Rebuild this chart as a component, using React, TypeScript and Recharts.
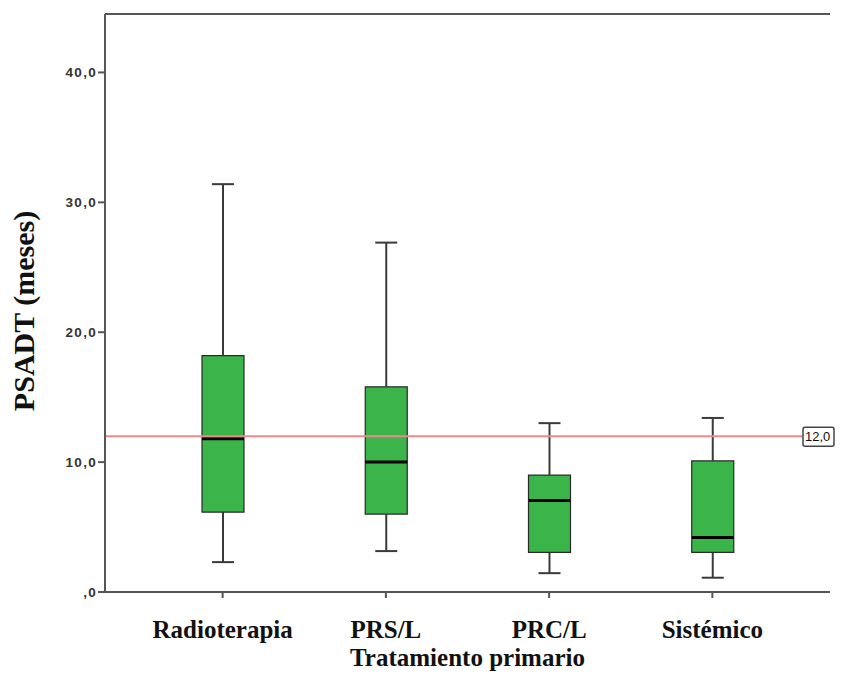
import React from "react";
import {
  ComposedChart,
  Bar,
  XAxis,
  YAxis,
  ReferenceLine,
  Label,
} from "recharts";

// Tratamiento primario -> PSADT (meses)
const categories = ["Radioterapia", "PRS/L", "PRC/L", "Sistémico"];
const mins = [2.3, 3.15, 1.45, 1.1];
const q1s = [6.15, 6.0, 3.05, 3.05];
const medians = [11.8, 10.0, 7.05, 4.2];
const q3s = [18.2, 15.8, 9.0, 10.1];
const maxs = [31.4, 26.9, 13.0, 13.4];

const yTicks = [0, 10, 20, 30, 40];
const Y_MAX = 44.5;
const REF_VALUE = 12;

const GREEN = "#3bb44a";
const DARK = "#3a3a3a";
const FRAME = "#555";

const data = categories.map((name, i) => ({
  name,
  base: mins[i],
  lowWhisker: q1s[i] - mins[i],
  lowBox: medians[i] - q1s[i],
  highBox: q3s[i] - medians[i],
  highWhisker: maxs[i] - q3s[i],
}));

const fmt = (v: number) => (v === 0 ? ",0" : v.toFixed(1).replace(".", ","));

const Empty = () => <g />;

const LowWhisker = (p: any) => {
  const { x, y, width, height } = p;
  const cx = x + width / 2;
  return (
    <g stroke={DARK} strokeWidth={2}>
      <line x1={cx} x2={cx} y1={y} y2={y + height} />
      <line x1={cx - 11} x2={cx + 11} y1={y + height} y2={y + height} />
    </g>
  );
};

const HighWhisker = (p: any) => {
  const { x, y, width, height } = p;
  const cx = x + width / 2;
  return (
    <g stroke={DARK} strokeWidth={2}>
      <line x1={cx} x2={cx} y1={y} y2={y + height} />
      <line x1={cx - 11} x2={cx + 11} y1={y} y2={y} />
    </g>
  );
};

const LowBox = (p: any) => {
  const { x, y, width, height } = p;
  return (
    <g>
      <rect x={x} y={y} width={width} height={height} fill={GREEN} />
      <path
        d={`M${x},${y} L${x},${y + height} L${x + width},${y + height} L${x + width},${y}`}
        fill="none"
        stroke="#2a2a2a"
        strokeWidth={1.2}
      />
    </g>
  );
};

const HighBox = (p: any) => {
  const { x, y, width, height } = p;
  return (
    <g>
      <rect x={x} y={y} width={width} height={height} fill={GREEN} />
      <path
        d={`M${x},${y + height} L${x},${y} L${x + width},${y} L${x + width},${y + height}`}
        fill="none"
        stroke="#2a2a2a"
        strokeWidth={1.2}
      />
      {/* median */}
      <line x1={x} x2={x + width} y1={y + height} y2={y + height} stroke="#000" strokeWidth={3} />
    </g>
  );
};

const RefLabel = (props: any) => {
  const { viewBox } = props;
  const right = viewBox.x + viewBox.width;
  const y = viewBox.y;
  return (
    <g>
      <rect x={right - 27} y={y - 9} width={31} height={19} fill="#fff" stroke="#444" strokeWidth={1.5} rx={2} />
      <text x={right - 25} y={y + 5} fontSize={13} fontFamily="Arial, 'Liberation Sans', sans-serif" fill="#111">
        {fmt(REF_VALUE)}
      </text>
    </g>
  );
};

const XTitle = (props: any) => {
  const { viewBox } = props;
  return (
    <text
      x={viewBox.x + viewBox.width / 2}
      y={viewBox.y + 74}
      textAnchor="middle"
      fontSize={25}
      fontWeight="bold"
      fontFamily="'Liberation Serif', 'Times New Roman', serif"
      fill="#111"
    >
      Tratamiento primario
    </text>
  );
};

const YTitle = (props: any) => {
  const { viewBox } = props;
  const cy = viewBox.y + viewBox.height / 2 + 8;
  return (
    <text
      x={26}
      y={cy}
      transform={`rotate(-90 26 ${cy})`}
      textAnchor="middle"
      fontSize={30}
      fontWeight="bold"
      fontFamily="'Liberation Serif', 'Times New Roman', serif"
      fill="#111"
    >
      PSADT (meses)
    </text>
  );
};

export default function App() {
  return (
    <div style={{ width: 834, height: 674 }}>
      <ComposedChart
        width={834}
        height={674}
        data={data}
        margin={{ top: 6, right: 12, left: 0, bottom: 0 }}
      >
        <XAxis
          dataKey="name"
          height={90}
          padding={{ left: 36, right: 36 }}
          axisLine={{ stroke: FRAME, strokeWidth: 2 }}
          tickLine={{ stroke: FRAME, strokeWidth: 2 }}
          tickSize={6}
          tickMargin={22}
          tick={{
            fontSize: 25,
            fontWeight: "bold",
            fontFamily: "'Liberation Serif', 'Times New Roman', serif",
            fill: "#111",
          }}
          interval={0}
        >
          <Label content={<XTitle />} />
        </XAxis>
        <YAxis
          width={97}
          domain={[0, Y_MAX]}
          ticks={yTicks}
          allowDataOverflow
          tickFormatter={fmt}
          axisLine={{ stroke: FRAME, strokeWidth: 2 }}
          tickLine={{ stroke: FRAME, strokeWidth: 2 }}
          tickSize={7}
          tickMargin={1}
          tick={{
            fontSize: 13.5,
            fontWeight: "bold",
            fontFamily: "Arial, 'Liberation Sans', sans-serif",
            fill: "#333",
            letterSpacing: 1.3,
          }}
        >
          <Label content={<YTitle />} />
        </YAxis>
        <YAxis
          yAxisId="right"
          orientation="right"
          width={0}
          tick={false}
          tickLine={false}
          axisLine={{ stroke: FRAME, strokeWidth: 2 }}
        />
        {/* top edge of the frame */}
        <ReferenceLine y={Y_MAX} stroke={FRAME} strokeWidth={2} />
        <ReferenceLine
          y={REF_VALUE}
          stroke="#f08a8a"
          strokeWidth={2}
          label={<RefLabel />}
        />
        <Bar dataKey="base" stackId="box" barSize={42} shape={<Empty />} isAnimationActive={false} />
        <Bar dataKey="lowWhisker" stackId="box" barSize={42} shape={<LowWhisker />} isAnimationActive={false} />
        <Bar dataKey="lowBox" stackId="box" barSize={42} shape={<LowBox />} isAnimationActive={false} />
        <Bar dataKey="highBox" stackId="box" barSize={42} shape={<HighBox />} isAnimationActive={false} />
        <Bar dataKey="highWhisker" stackId="box" barSize={42} shape={<HighWhisker />} isAnimationActive={false} />
      </ComposedChart>
    </div>
  );
}
